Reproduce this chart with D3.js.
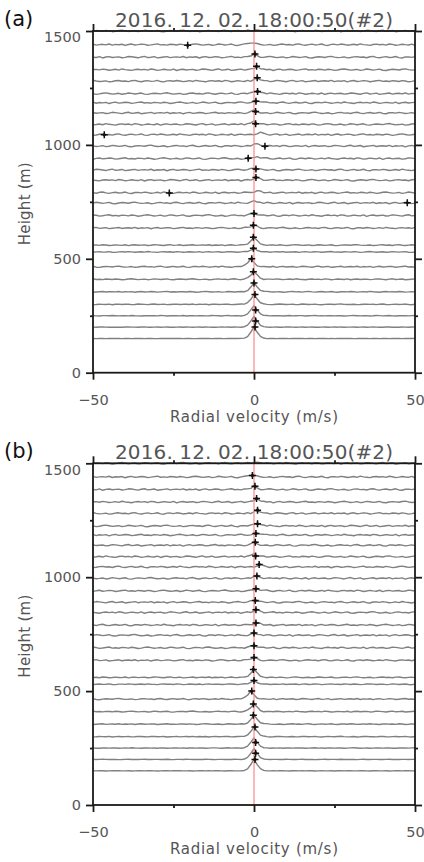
<!DOCTYPE html>
<html>
<head>
<meta charset="utf-8">
<script src="https://cdn.jsdelivr.net/npm/d3@7/dist/d3.min.js"></script>
<style>
body { margin: 0; background: #fff; }
svg text { font-family: "DejaVu Sans", sans-serif; }
</style>
</head>
<body>
<svg id="chart"></svg>
<script>
// range gates (m), bottom to top
var gateHeights = [150, 200, 250, 300, 355, 410, 465, 530, 560, 635, 690, 745, 790, 845, 890, 940, 995, 1045, 1090, 1140, 1185, 1225, 1280, 1330, 1385, 1440, 1500];
// spectral peak centre (m/s) and height (m of plot offset)
var peakCenter = [0.3, 0.5, 0.5, 0.3, -0.2, -0.2, -0.7, 0, -0.2, 0, 0, 0, 0.6, 0.6, 0.4, 0.6, 0.9, 1.6, 0.5, 0.4, 0.6, 1.1, 1.1, 0.8, 0.3, -0.5, 0.3];
var peakAmp = [50, 48, 45, 42, 38, 33, 33, 15, 34, 12, 10, 8, 8, 10, 10, 8, 10, 8, 12, 10, 10, 12, 12, 12, 12, 8, 6];
var noiseAmp = [0.6, 0.8, 1.2, 1.6, 2, 2.4, 3, 2, 2.4, 3.4, 3.8, 3.8, 3.8, 3.8, 3.8, 3.8, 3.8, 3.8, 3.8, 3.8, 3.8, 3.8, 3.8, 3.8, 3.8, 3.8, 3.8];
// picked peak velocities (m/s), null = no marker
var markersA = [0.3, 0.5, 0.5, 0.3, 0, -0.2, -0.7, -0.2, -0.2, -0.2, 0, 47.6, -26.3, 0.6, 0.6, -1.8, 3.4, -46.5, 0.5, 0.5, 0.6, 1.1, 1.0, 0.8, 0.3, -20.6, null];
var markersB = [0.3, 0.5, 0.5, 0.3, -0.2, -0.2, -0.7, 0, -0.2, 0, 0, 0, 0.6, 0.6, 0.4, 0.6, 0.9, 1.6, 0.5, 0.4, 0.6, 1.1, 1.1, 0.8, 0.3, -0.5, null];
var peakShape = [0.04, 0.18, 0.55, 1, 0.55, 0.18, 0.04];
var noise = [0.2, -0.4, 0.6, 0.1, -0.8, -0.3, 0.5, 0.9, 0.2, -0.5, -0.1, 0.4, -0.7, -0.2, 0.8, 0.3, -0.4, 0.1, 0.7, -0.6,
  -0.9, 0.0, 0.5, 0.2, -0.3, 0.6, 1.0, 0.1, -0.5, -0.2, 0.3, -0.8, -0.4, 0.4, 0.7, -0.1, 0.2, -0.6, 0.5, 0.9,
  -0.2, -0.7, 0.1, 0.6, -0.3, 0.0, 0.8, -0.5, -0.9, 0.3, 0.4, -0.2, 0.7, 0.2, -0.6, -0.1, 0.5, -0.4, 0.9, 0.1,
  -0.3, -0.8, 0.2, 0.6, -0.1, 0.4, -0.5, 0.8, 0.3, -0.7, -0.2, 0.5, 0.0, -0.4, 0.7, -0.9, 0.2, 0.6, -0.3, 0.1,
  0.4, -0.6, -0.2, 0.8, 0.5, -0.1, -0.7, 0.3, 0.9, -0.4, 0.0, 0.6, -0.8, -0.3, 0.2, 0.7, -0.5, 0.1, 0.4, -0.2,
  0.8, -0.6, 0.3, -0.1, 0.5, -0.9, 0.2, 0.7, -0.4, 0.0, 0.6, 0.3, -0.7, -0.2, 0.4, 0.9, -0.3, 0.1, -0.5, 0.5];
var velTicks = [-50, 0, 50];
var velMinor = [-25, 25];
var heightTicks = [0, 500, 1000, 1500];
var heightMinor = [250, 750, 1250];
var titleText = "2016. 12. 02. 18:00:50(#2)";

var screen = {width: 424, height: 862};
var plot = {left: 93, right: 415, top: 31, bottom: 372.7};
var panelGap = 432.3;

var svg = d3.select("#chart")
  .attr("width", screen.width)
  .attr("height", screen.height);

var xScale = d3.scaleLinear().domain([-50, 50]).range([plot.left, plot.right]);
var yScale = d3.scaleLinear().domain([0, 1500]).range([plot.bottom, plot.top]);
var velBins = d3.range(-50, 50.001, 1);

// build the spectra once, both panels share them
var spectra = gateHeights.map(function(h, i){
  var start = (i * 23) % noise.length;
  return velBins.map(function(v, j){
    var n = noise[(start + j) % noise.length] * noiseAmp[i];
    var k = Math.round(v - peakCenter[i]) + 3;
    var b = (k >= 0 && k < peakShape.length) ? peakShape[k] * peakAmp[i] : 0;
    return {v: v, h: h + n + b};
  });
});

var drawPanel = function(label, offset, markers){
  var g = svg.append("g").attr("transform", "translate(0," + offset + ")");

  var line = d3.line()
    .x(function(d){ return xScale(d.v); })
    .y(function(d){ return yScale(d.h); });

  g.append("g").selectAll("path")
    .data(spectra)
    .enter()
    .append("path")
    .attr("fill", "none")
    .attr("stroke", "#808080")
    .attr("stroke-width", 1.4)
    .attr("stroke-linejoin", "round")
    .attr("d", line);

  g.append("line")
    .attr("x1", xScale(0)).attr("x2", xScale(0))
    .attr("y1", yScale(0)).attr("y2", yScale(1500))
    .attr("stroke", "#ff8585")
    .attr("stroke-width", 1.2);

  var marks = [];
  markers.forEach(function(m, i){
    if (m === null) return;
    var j = Math.round(m + 50);
    marks.push({v: m, h: spectra[i][j].h});
  });
  var mg = g.append("g").selectAll("g")
    .data(marks)
    .enter()
    .append("g")
    .attr("transform", function(d){ return "translate(" + xScale(d.v) + "," + yScale(d.h) + ")"; });
  mg.append("path")
    .attr("d", "M-3.5,0H3.5M0,-3.5V3.5")
    .attr("stroke", "#111")
    .attr("stroke-width", 1.5);
  mg.append("circle").attr("r", 1.6).attr("fill", "#111");

  // frame
  g.append("rect")
    .attr("x", plot.left).attr("y", plot.top)
    .attr("width", plot.right - plot.left)
    .attr("height", plot.bottom - plot.top)
    .attr("fill", "none")
    .attr("stroke", "#1a1a1a")
    .attr("stroke-width", 1.8);

  var axes = [
    {a: d3.axisLeft(yScale).tickValues(heightTicks).tickSize(7).tickPadding(5), t: "translate(" + plot.left + ",0)", lab: true},
    {a: d3.axisLeft(yScale).tickValues(heightMinor).tickSize(3), t: "translate(" + plot.left + ",0)"},
    {a: d3.axisRight(yScale).tickValues(heightTicks).tickSize(7), t: "translate(" + plot.right + ",0)"},
    {a: d3.axisRight(yScale).tickValues(heightMinor).tickSize(3), t: "translate(" + plot.right + ",0)"},
    {a: d3.axisBottom(xScale).tickValues(velTicks).tickSize(7).tickPadding(15), t: "translate(0," + plot.bottom + ")", lab: true},
    {a: d3.axisBottom(xScale).tickValues(velMinor).tickSize(3), t: "translate(0," + plot.bottom + ")"},
    {a: d3.axisTop(xScale).tickValues(velTicks).tickSize(7), t: "translate(0," + plot.top + ")"},
    {a: d3.axisTop(xScale).tickValues(velMinor).tickSize(3), t: "translate(0," + plot.top + ")"}
  ];
  axes.forEach(function(ax){
    var ag = g.append("g").attr("transform", ax.t).call(ax.a.tickSizeOuter(0).tickFormat(d3.format("d")));
    ag.select(".domain").remove();
    ag.selectAll(".tick line").attr("stroke", "#1a1a1a").attr("stroke-width", 1.8);
    if (ax.lab) {
      ag.selectAll("text")
        .attr("fill", "#555")
        .style("font-size", "14.5px")
        .style("font-family", "DejaVu Sans");
    } else {
      ag.selectAll("text").remove();
    }
  });
  g.selectAll(".tick text").filter(function(d){ return d === 1500; }).attr("dy", "0.75em");
  g.selectAll(".tick text").filter(function(d){ return d === -50; }).text("\u221250");

  g.append("text")
    .attr("x", xScale(0)).attr("y", 26.7)
    .attr("text-anchor", "middle")
    .attr("fill", "#555")
    .attr("textLength", 278)
    .attr("lengthAdjust", "spacing")
    .style("font-size", "20px")
    .text(titleText);

  g.append("text")
    .attr("x", 4).attr("y", 26)
    .attr("fill", "#111")
    .style("font-size", "21px")
    .text(label);

  g.append("text")
    .attr("transform", "translate(30," + ((plot.top + plot.bottom) / 2 + 2) + ") rotate(-90)")
    .attr("text-anchor", "middle")
    .attr("fill", "#555")
    .attr("textLength", 83)
    .attr("lengthAdjust", "spacing")
    .style("font-size", "15px")
    .text("Height (m)");

  g.append("text")
    .attr("x", xScale(0)).attr("y", 422)
    .attr("text-anchor", "middle")
    .attr("fill", "#555")
    .attr("textLength", 168)
    .attr("lengthAdjust", "spacing")
    .style("font-size", "15px")
    .text("Radial velocity (m/s)");
};

drawPanel("(a)", 0, markersA);
drawPanel("(b)", panelGap, markersB);
</script>
</body>
</html>
